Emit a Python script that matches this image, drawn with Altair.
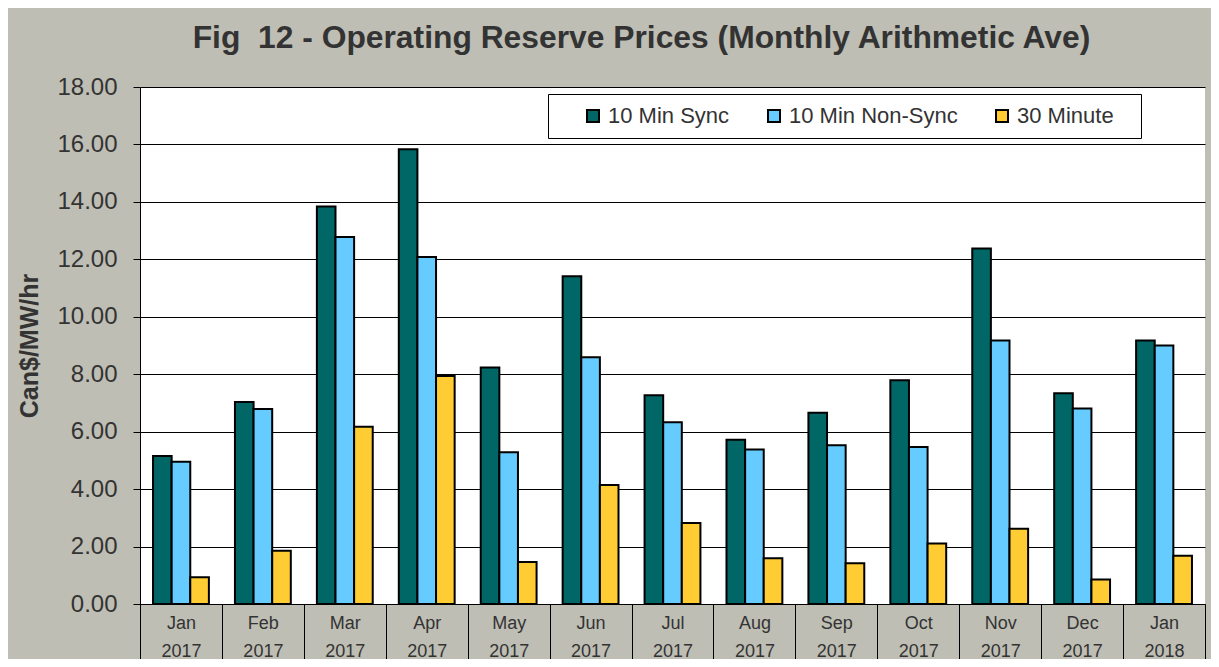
import altair as alt
import pandas as pd

months = ["Jan 2017", "Feb 2017", "Mar 2017", "Apr 2017", "May 2017", "Jun 2017",
          "Jul 2017", "Aug 2017", "Sep 2017", "Oct 2017", "Nov 2017", "Dec 2017", "Jan 2018"]
sync = [5.15, 7.03, 13.84, 15.83, 8.23, 11.41, 7.27, 5.72, 6.66, 7.79, 12.38, 7.34, 9.17]
nonsync = [4.95, 6.79, 12.78, 12.08, 5.28, 8.59, 6.33, 5.38, 5.53, 5.47, 9.17, 6.81, 9.00]
thirty = [0.93, 1.85, 6.17, 7.94, 1.46, 4.14, 2.82, 1.59, 1.42, 2.11, 2.62, 0.85, 1.68]
series = ["10 Min Sync", "10 Min Non-Sync", "30 Minute"]
colors = ["#006666", "#66CCFF", "#FFCC33"]

rows = []
for i, m in enumerate(months):
    for s, vals in zip(series, [sync, nonsync, thirty]):
        rows.append({"month": m, "series": s, "order": series.index(s), "value": vals[i]})
df = pd.DataFrame(rows)

FONT = "Liberation Sans"
TXT = "#333333"

chart = alt.Chart(df).mark_bar(stroke="black", strokeWidth=2).encode(
    x=alt.X("month:N", sort=months,
            scale=alt.Scale(paddingInner=0, paddingOuter=0),
            axis=alt.Axis(title=None, labelAngle=0, tickBand="extent", tickSize=63,
                          tickColor="black", domainColor="black", labelPadding=-53,
                          labelBaseline="top", labelLineHeight=28, labelFontSize=18,
                          labelColor=TXT, labelFont=FONT,
                          labelExpr="split(datum.label, ' ')")),
    xOffset=alt.XOffset("series:N", sort=series,
                        scale=alt.Scale(paddingInner=0, paddingOuter=0.7)),
    y=alt.Y("value:Q", scale=alt.Scale(domain=[0, 18], nice=False),
            axis=alt.Axis(title="Can$/MW/hr", values=list(range(0, 19, 2)), format=".2f",
                          grid=True, gridColor="black", gridWidth=1, tickSize=7,
                          tickColor="black", domainColor="black", labelPadding=16,
                          labelFontSize=24, labelColor=TXT, labelFont=FONT,
                          titleFontSize=25, titleFont=FONT, titleFontWeight="bold",
                          titleColor=TXT, titlePadding=14)),
    color=alt.Color("series:N", sort=series,
                    scale=alt.Scale(domain=series, range=colors),
                    legend=alt.Legend(title="\u2003", titleOrient="left", titlePadding=23,
                                      titleFontSize=22, titleFont=FONT,
                                      orient="none", direction="horizontal",
                                      legendX=408, legendY=7, fillColor="white",
                                      strokeColor="black", padding=11,
                                      symbolType="square", symbolSize=144,
                                      symbolStrokeColor="black", symbolStrokeWidth=2,
                                      symbolOpacity=1,
                                      labelFontSize=22, labelFont=FONT, labelColor=TXT,
                                      labelOffset=4, columnPadding=33, labelLimit=400,
                                      labelExpr="datum.label == '30 Minute' ? datum.label + '\u2800' : datum.label")),
    order=alt.Order("order:Q"),
).properties(
    width=1065, height=517,
    autosize=alt.AutoSizeParams(type="none"),
    padding={"left": 132, "top": 79, "right": 6, "bottom": 55},
    background="#BEBEB4",
    title=alt.TitleParams("Fig\u00a0 12 - Operating Reserve Prices (Monthly Arithmetic Ave)",
                          font=FONT, fontSize=31.8, fontWeight="bold", color=TXT,
                          anchor="middle", frame="group", dx=-31, dy=42, offset=37,
                          baseline="alphabetic"),
).configure_view(fill="white", stroke=None)

chart.save("out.html", embed_options={"renderer": "svg", "actions": False})
